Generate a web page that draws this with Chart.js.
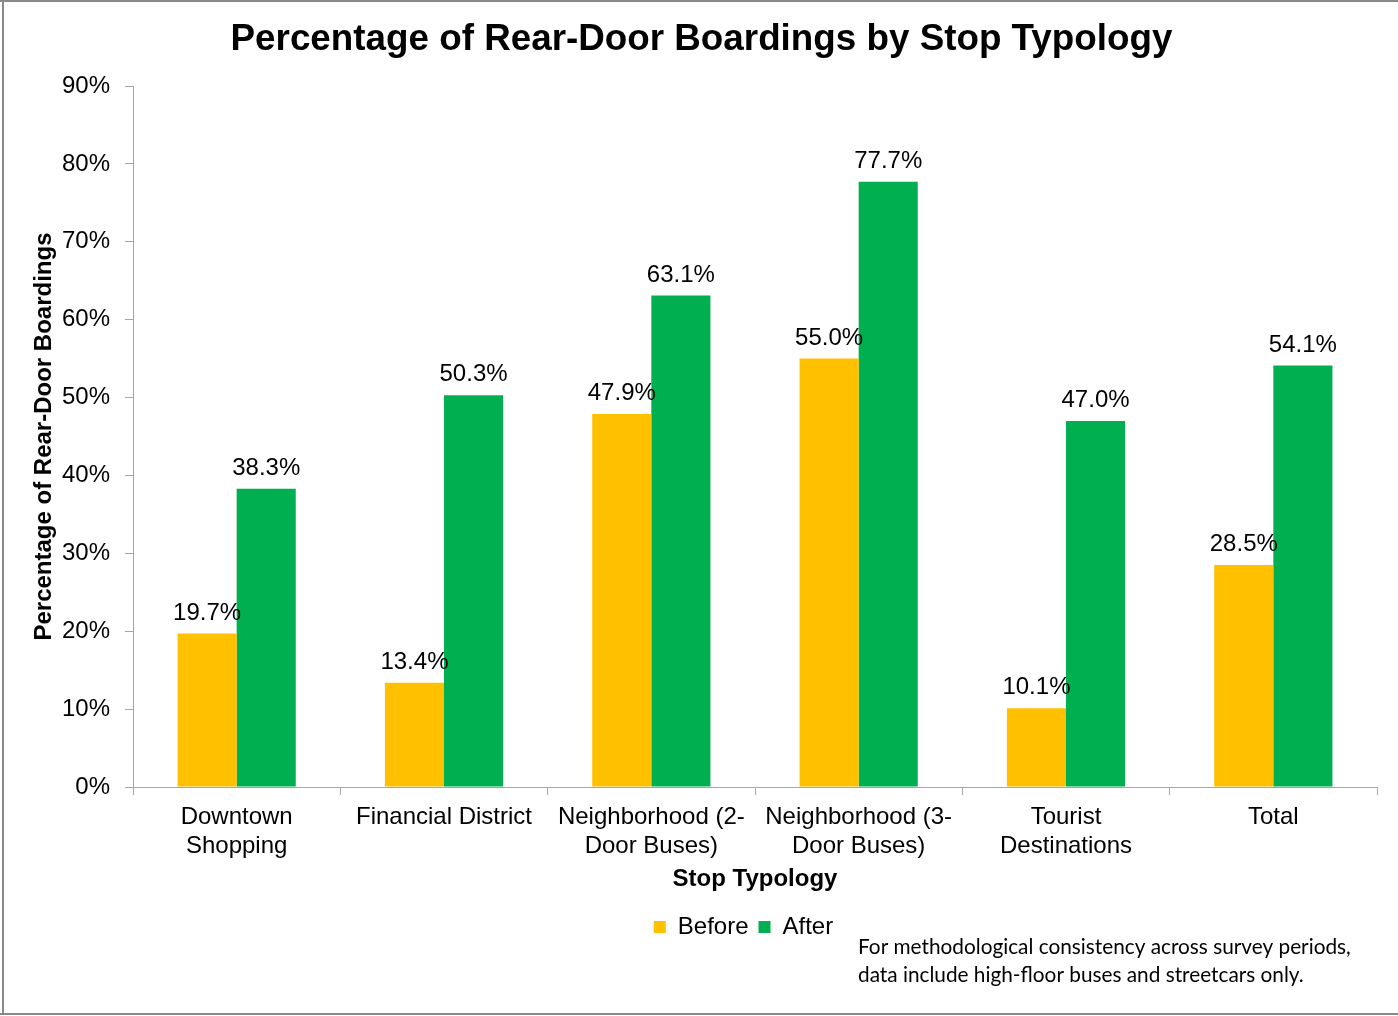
<!DOCTYPE html>
<html>
<head>
<meta charset="utf-8">
<script src="https://cdn.jsdelivr.net/npm/chart.js@4.4.1/dist/chart.umd.min.js"></script>
<style>
  html, body { margin: 0; padding: 0; background: #ffffff; }
  #wrap { width: 1398px; height: 1016px; position: relative; }
  canvas { display: block; }
</style>
</head>
<body>
<div id="wrap"><canvas id="c" width="1398" height="1016"></canvas></div>
<script>
// ---- data ----
const categories = [
  ["Downtown", "Shopping"],
  ["Financial District"],
  ["Neighborhood (2-", "Door Buses)"],
  ["Neighborhood (3-", "Door Buses)"],
  ["Tourist", "Destinations"],
  ["Total"]
];
const beforeValues = [19.7, 13.4, 47.9, 55.0, 10.1, 28.5];
const afterValues  = [38.3, 50.3, 63.1, 77.7, 47.0, 54.1];
const seriesNames = ["Before", "After"];
const yTickMin = 0, yTickMax = 90, yTickStep = 10;
const chartTitle = "Percentage of Rear-Door Boardings by Stop Typology";
const yTitle = "Percentage of Rear-Door Boardings";
const xTitle = "Stop Typology";
const footnoteLines = [
  "For methodological consistency across survey periods,",
  "data include high-floor buses and streetcars only."
];

// ---- styles ----
const FONT = "'Liberation Sans', Arial, Helvetica, sans-serif";
const AXIS_GRAY = "#A6A6A6";
const YELLOW = "#FFC000";
const GREEN = "#00B050";

const framePlugin = {
  id: 'frame',
  beforeDraw(chart) {
    const ctx = chart.ctx;
    ctx.save();
    ctx.fillStyle = '#ffffff';
    ctx.fillRect(0, 0, chart.width, chart.height);
    ctx.restore();
  },
  afterDraw(chart) {
    const ctx = chart.ctx;
    ctx.save();
    ctx.fillStyle = '#898989';
    ctx.fillRect(0, 0, chart.width, 2);
    ctx.fillRect(2, 0, 2, 1015);
    ctx.fillRect(0, 1013, chart.width, 2);
    // footnote
    let size = 20;
    ctx.font = size + "px Lato, 'Open Sans', sans-serif";
    const w = ctx.measureText(footnoteLines[0]).width;
    size = size * 493 / w;
    ctx.font = size.toFixed(2) + "px Lato, 'Open Sans', sans-serif";
    ctx.fillStyle = '#000000';
    ctx.textAlign = 'left';
    ctx.textBaseline = 'middle';
    ctx.fillText(footnoteLines[0], 858, 947);
    ctx.fillText(footnoteLines[1], 858, 975);
    ctx.restore();
  }
};

const shiftPlugin = {
  id: 'shift',
  afterLayout(chart) {
    const lg = chart.legend;
    if (lg) { lg.left += 55; lg.right += 55; }
    const tb = chart.titleBlock;
    if (tb) { tb.left += 13; tb.right += 13; }
  }
};

const labelPlugin = {
  id: 'valueLabels',
  afterDatasetsDraw(chart) {
    const ctx = chart.ctx;
    ctx.save();
    ctx.font = "24px " + FONT;
    ctx.fillStyle = '#000000';
    ctx.textAlign = 'center';
    ctx.textBaseline = 'alphabetic';
    chart.data.datasets.forEach((ds, i) => {
      const meta = chart.getDatasetMeta(i);
      meta.data.forEach((bar, j) => {
        ctx.fillText(ds.data[j].toFixed(1) + '%', bar.x, bar.y - 14);
      });
    });
    ctx.restore();
  }
};

new Chart(document.getElementById('c'), {
  type: 'bar',
  data: {
    labels: categories,
    datasets: [
      { label: seriesNames[0], data: beforeValues, backgroundColor: YELLOW, borderWidth: 0,
        categoryPercentage: 0.57, barPercentage: 1.0 },
      { label: seriesNames[1], data: afterValues, backgroundColor: GREEN, borderWidth: 0,
        categoryPercentage: 0.57, barPercentage: 1.0 }
    ]
  },
  options: {
    responsive: false,
    devicePixelRatio: 1,
    animation: false,
    layout: { padding: { left: 0, right: 21, top: 0, bottom: 67 } },
    plugins: {
      title: {
        display: true,
        text: chartTitle,
        color: '#000000',
        font: { family: FONT, size: 36.8, weight: 'bold' },
        padding: { top: 17.92, bottom: 23.92 }
      },
      legend: {
        display: true,
        position: 'bottom',
        labels: {
          color: '#000000',
          font: { family: FONT, size: 24 },
          boxWidth: 12,
          boxHeight: 12,
          padding: 10
        }
      },
      tooltip: { enabled: false }
    },
    scales: {
      x: {
        grid: { display: true, drawOnChartArea: false, drawTicks: true, tickLength: 8, color: AXIS_GRAY, offset: true },
        border: { display: true, color: AXIS_GRAY, width: 1 },
        ticks: { color: '#000000', font: { family: FONT, size: 24 }, padding: 8, autoSkip: false, maxRotation: 0, minRotation: 0 },
        title: { display: true, text: xTitle, color: '#000000', font: { family: FONT, size: 24, weight: 'bold' }, padding: { top: 0, bottom: 11.6 } },
        afterFit(scale) { scale.height = 118; }
      },
      y: {
        min: yTickMin,
        max: yTickMax,
        grid: { display: true, drawOnChartArea: false, drawTicks: true, tickLength: 8, color: AXIS_GRAY },
        border: { display: true, color: AXIS_GRAY, width: 1 },
        ticks: { stepSize: yTickStep, color: '#000000', font: { family: FONT, size: 24 }, padding: 15,
          callback: (v) => v + '%' },
        title: { display: true, text: yTitle, color: '#000000', font: { family: FONT, size: 24, weight: 'bold' }, padding: { top: 29.6, bottom: 0 } },
        afterFit(scale) { scale.width = 133; }
      }
    }
  },
  plugins: [framePlugin, shiftPlugin, labelPlugin]
});
</script>
</body>
</html>
